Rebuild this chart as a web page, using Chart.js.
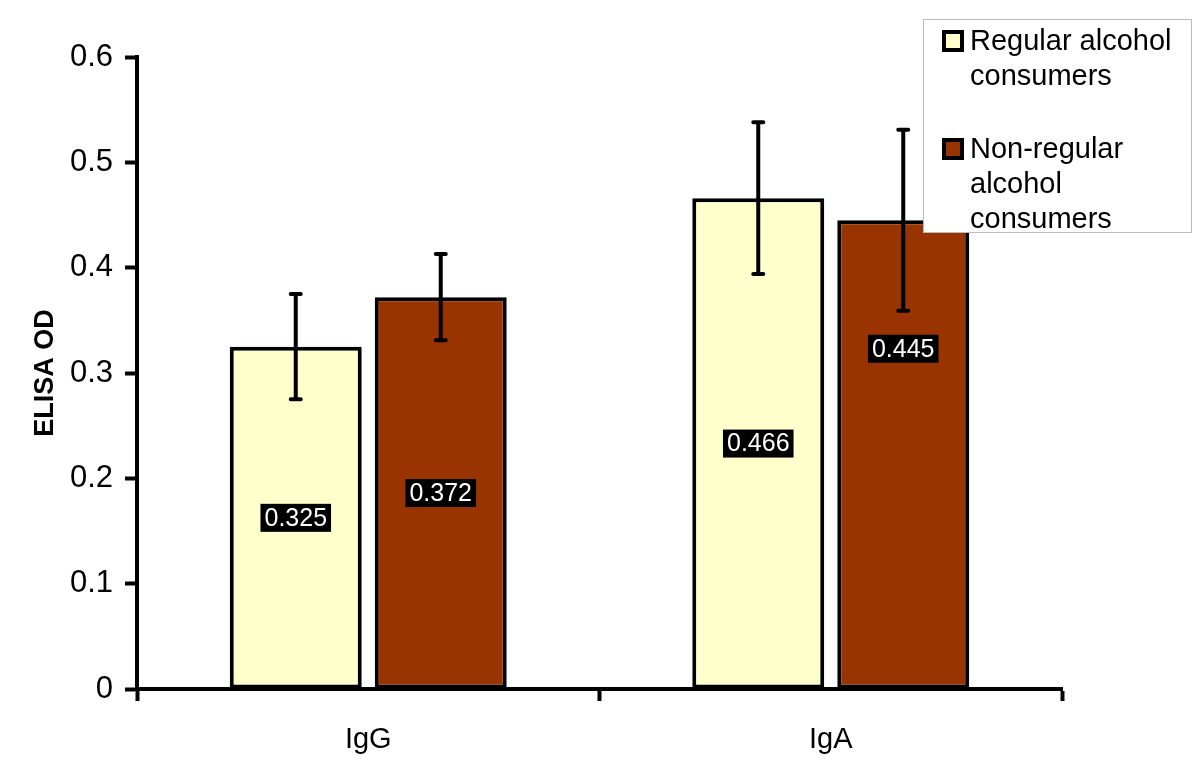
<!DOCTYPE html>
<html>
<head>
<meta charset="utf-8">
<script src="https://cdn.jsdelivr.net/npm/chart.js@4/dist/chart.umd.min.js"></script>
<style>
  html, body { margin: 0; padding: 0; background: #fff; }
  #wrap { width: 1200px; height: 778px; }
</style>
</head>
<body>
<div id="wrap"><canvas id="chart" width="1200" height="778"></canvas></div>
<script>
const categories = ['IgG', 'IgA'];
const regularValues = [0.325, 0.466];
const regularErrors = [0.050, 0.072];
const nonRegularValues = [0.372, 0.445];
const nonRegularErrors = [0.041, 0.086];
const legendLabels = [['Regular alcohol', 'consumers'], ['Non-regular', 'alcohol', 'consumers']];
const yTicks = [0, 0.1, 0.2, 0.3, 0.4, 0.5, 0.6];

const FONT = "'Liberation Sans', Arial, sans-serif";
const colors = ['#FFFFCC', '#993300'];
// where each value label sits, in axis units (mostly half the bar, one moved up)
const labelAt = [[0.1625, 0.186], [0.233, 0.323]];

// error bars with caps
const errorBars = {
  id: 'errorBars',
  afterDatasetsDraw(chart) {
    const ctx = chart.ctx;
    const y = chart.scales.y;
    ctx.save();
    ctx.strokeStyle = '#000';
    ctx.lineWidth = 4;
    ctx.lineCap = 'round';
    chart.data.datasets.forEach((ds, i) => {
      chart.getDatasetMeta(i).data.forEach((bar, j) => {
        const v = ds.data[j], e = ds.errors[j];
        const top = y.getPixelForValue(v + e), bot = y.getPixelForValue(v - e);
        ctx.beginPath();
        ctx.moveTo(bar.x, top); ctx.lineTo(bar.x, bot);
        ctx.moveTo(bar.x - 5, top); ctx.lineTo(bar.x + 5, top);
        ctx.moveTo(bar.x - 5, bot); ctx.lineTo(bar.x + 5, bot);
        ctx.stroke();
      });
    });
    ctx.restore();
  }
};

// value labels, white on black
const valueLabels = {
  id: 'valueLabels',
  afterDatasetsDraw(chart) {
    const ctx = chart.ctx;
    const y = chart.scales.y;
    ctx.save();
    ctx.font = '25px ' + FONT;
    ctx.textAlign = 'center';
    ctx.textBaseline = 'middle';
    chart.data.datasets.forEach((ds, i) => {
      chart.getDatasetMeta(i).data.forEach((bar, j) => {
        const txt = ds.data[j].toFixed(3);
        const cy = y.getPixelForValue(labelAt[j][i]);
        const w = ctx.measureText(txt).width + 8;
        ctx.fillStyle = '#000';
        ctx.fillRect(bar.x - w / 2, cy - 14, w, 28);
        ctx.fillStyle = '#fff';
        ctx.fillText(txt, bar.x, cy + 1);
      });
    });
    ctx.restore();
  }
};

// boxed legend in the top right corner
const boxLegend = {
  id: 'boxLegend',
  afterDraw(chart) {
    const ctx = chart.ctx;
    ctx.save();
    ctx.fillStyle = '#fff';
    ctx.fillRect(923, 19, 268, 213);
    ctx.strokeStyle = '#bbb';
    ctx.lineWidth = 1;
    ctx.strokeRect(923.5, 19.5, 268, 213);
    ctx.font = '29px ' + FONT;
    ctx.textBaseline = 'middle';
    const starts = [41, 149];
    legendLabels.forEach((lines, i) => {
      const y0 = starts[i];
      ctx.fillStyle = colors[i];
      ctx.fillRect(944, y0 - 9, 18, 18);
      ctx.strokeStyle = '#000';
      ctx.lineWidth = 4;
      ctx.strokeRect(944, y0 - 9, 18, 18);
      ctx.fillStyle = '#000';
      lines.forEach((t, k) => ctx.fillText(t, 970, y0 + 1 + k * 35));
    });
    ctx.restore();
  }
};

new Chart(document.getElementById('chart'), {
  type: 'bar',
  data: {
    labels: categories,
    datasets: [
      { label: legendLabels[0].join(' '), data: regularValues, errors: regularErrors,
        backgroundColor: colors[0], borderColor: '#000', borderWidth: 4, borderSkipped: false },
      { label: legendLabels[1].join(' '), data: nonRegularValues, errors: nonRegularErrors,
        backgroundColor: colors[1], borderColor: '#000', borderWidth: 4, borderSkipped: false }
    ]
  },
  options: {
    responsive: false,
    animation: false,
    layout: { padding: { top: 57, right: 138, left: 0, bottom: 0 } },
    datasets: { bar: { categoryPercentage: 0.627, barPercentage: 0.91 } },
    plugins: { legend: { display: false }, tooltip: { enabled: false } },
    scales: {
      x: {
        afterFit: s => { s.height = 89; },
        grid: { drawOnChartArea: false, tickLength: 12, tickWidth: 4, tickColor: '#000', offset: true },
        border: { color: '#000', width: 4 },
        ticks: { color: '#000', font: { family: FONT, size: 29 }, padding: 22 }
      },
      y: {
        min: 0, max: 0.6,
        afterFit: s => { s.width = 137; },
        afterBuildTicks: s => { s.ticks = yTicks.map(v => ({ value: v })); },
        grid: { drawOnChartArea: false, tickLength: 12, tickWidth: 4, tickColor: '#000' },
        border: { color: '#000', width: 4 },
        ticks: { color: '#000', font: { family: FONT, size: 31 }, padding: 12,
          callback: v => String(Math.round(v * 10) / 10) },
        title: { display: true, text: 'ELISA OD', color: '#000',
          font: { family: FONT, size: 27, weight: 'bold' }, padding: { top: 29, bottom: 0 } }
      }
    }
  },
  plugins: [errorBars, valueLabels, boxLegend]
});
</script>
</body>
</html>
